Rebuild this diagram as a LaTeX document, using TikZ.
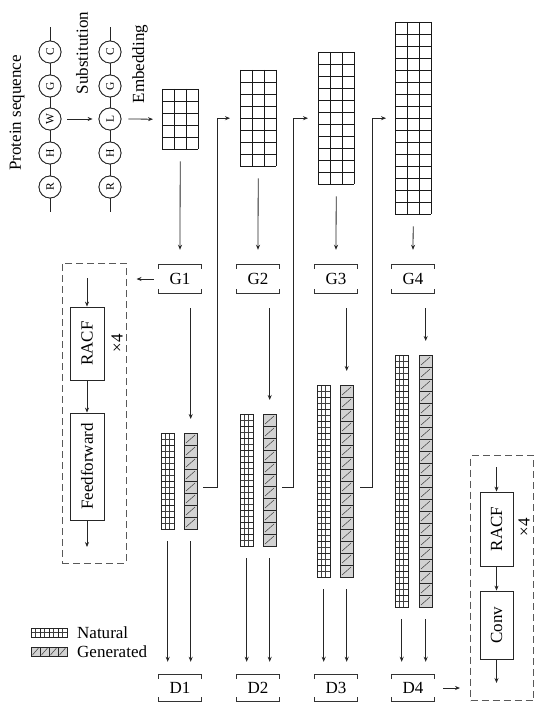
\documentclass[tikz,border=0pt]{standalone}
\usepackage{fontspec}
\setmainfont{Liberation Serif}
\usepackage{graphicx}
\usetikzlibrary{arrows.meta,calc}
\tikzset{
  ln/.style={line width=0.8pt, draw=black!85},
  arr/.style={ln, -{Stealth[length=5pt,width=4pt]}},
  gridline/.style={line width=0.9pt, draw=black!90},
  natline/.style={line width=0.8pt, draw=black!85},
  thinline/.style={line width=0.5pt, draw=black!75},
  brk/.style={line width=0.8pt, draw=black!80},
  aa/.style={circle, draw=black!85, line width=0.8pt, fill=white, minimum size=22pt, inner sep=0pt, font=\fontsize{11.5}{13}\selectfont},
  vlabel/.style={inner sep=0pt},
  blk/.style={draw=black!85, line width=0.8pt, minimum width=34pt, inner sep=0pt},
  dbox/.style={draw=black!65, dash pattern=on 7pt off 4pt, line width=1pt, inner sep=0pt},
  anchorbox/.style={inner sep=0pt, anchor=north west},
}
\newcommand\gridblk[4]{%
  \node[anchorbox, minimum width=36pt, minimum height=#4*12pt] (#1) at (#2,#3) {};
  \foreach \j in {0,...,#4} \draw[gridline] (#2,#3+12*\j) -- ++(36,0);
  \foreach \i in {0,1,2,3} \draw[gridline] (#2+12*\i,#3) -- ++(0,12*#4);
}
\newcommand\natcol[4]{%
  \node[anchorbox, minimum width=13pt, minimum height=#4*12pt] (#1) at (#2,#3) {};
  \foreach \j in {1,...,#4} {
    \draw[thinline] (#2+4.3,#3+12*\j-12) -- ++(0,12);
    \draw[thinline] (#2+8.7,#3+12*\j-12) -- ++(0,12);
    \draw[thinline] (#2,#3+12*\j-6) -- ++(13,0);
    \draw[natline] (#2,#3+12*\j-12) rectangle ++(13,12);
  }
}
\newcommand\gencol[4]{%
  \node[anchorbox, minimum width=13pt, minimum height=#4*12pt] (#1) at (#2,#3) {};
  \foreach \j in {1,...,#4} {
    \draw[natline, fill=gray!35] (#2,#3+12*\j-12) rectangle ++(13,12);
    \draw[thinline] (#2+2,#3+12*\j-2) -- ++(9,-8);
  }
}
\newcommand\brkbox[4]{%
  \node[inner sep=0pt, minimum width=42pt, minimum height=#3] (#1) at (#2) {#4};
  \draw[brk] ([yshift=-4pt]#1.north west) -- (#1.north west) -- (#1.north east) -- ([yshift=-4pt]#1.north east);
  \draw[brk] ([yshift=4pt]#1.south west) -- (#1.south west) -- (#1.south east) -- ([yshift=4pt]#1.south east);
}
\begin{document}
\begin{tikzpicture}[x=1pt,y=-1pt, font=\fontsize{17}{20}\selectfont]
\useasboundingbox (0,0) rectangle (536,703);

% protein sequence
\node[aa] (pC) at (50,52) {\rotatebox{90}{C}};
\node[aa] (pG) at (50,86) {\rotatebox{90}{G}};
\node[aa] (pW) at (50,119) {\rotatebox{90}{W}};
\node[aa] (pH) at (50,153) {\rotatebox{90}{H}};
\node[aa] (pR) at (50,187) {\rotatebox{90}{R}};
\node[aa] (sC) at (110,52) {\rotatebox{90}{C}};
\node[aa] (sG) at (110,86) {\rotatebox{90}{G}};
\node[aa] (sL) at (110,119) {\rotatebox{90}{L}};
\node[aa] (sH) at (110,153) {\rotatebox{90}{H}};
\node[aa] (sR) at (110,187) {\rotatebox{90}{R}};
\foreach \c in {p,s} {
  \draw[ln] (\c C.north) -- ++(0,-14);
  \draw[ln] (\c R.south) -- ++(0,14);
}
\draw[ln] (pC) -- (pG) -- (pW) -- (pH) -- (pR);
\draw[ln] (sC) -- (sG) -- (sL) -- (sH) -- (sR);
\foreach \c in {p,s} \foreach \n in {C,G,H,R} \node[aa] at (\c\n) {\rotatebox{90}{\n}};
\node[aa] at (pW) {\rotatebox{90}{W}};
\node[aa] at (sL) {\rotatebox{90}{L}};

\node[vlabel] (lprot) at (17,113) {\rotatebox{90}{Protein sequence}};
\node[vlabel] (lsub) at (82,53) {\rotatebox{90}{Substitution}};
\node[vlabel] (lemb) at (140,64) {\rotatebox{90}{Embedding}};

% grids
\gridblk{gr1}{162}{89}{5}
\gridblk{gr2}{240}{70}{8}
\gridblk{gr3}{318}{52}{11}
\gridblk{gr4}{395}{22}{16}

\draw[arr] ([xshift=6pt]pW.east) -- ([xshift=-6pt]sL.west);
\draw[arr] ([xshift=7pt]sL.east) -- ([xshift=-9pt]gr1.west);

% G boxes
\brkbox{g1}{180,279}{28pt}{G1}
\brkbox{g2}{258,279}{28pt}{G2}
\brkbox{g3}{336,279}{28pt}{G3}
\brkbox{g4}{413,279}{28pt}{G4}
\foreach \k in {1,2,3,4}
  \draw[arr] ([yshift=-12pt]gr\k.south) -- ([yshift=15pt]g\k.north);

% columns
\natcol{n1}{161}{433}{8}
\gencol{e1}{184}{433}{8}
\natcol{n2}{240}{414}{11}
\gencol{e2}{263}{414}{11}
\natcol{n3}{317}{385}{16}
\gencol{e3}{340}{385}{16}
\natcol{n4}{395}{355}{21}
\gencol{e4}{419}{355}{21}

\foreach \k in {1,2,3,4}
  \draw[arr] ($(e\k.north |- g\k.south)+(0,15)$) -- ([yshift=14pt]e\k.north);

% D boxes
\brkbox{d1}{180,688}{26pt}{D1}
\brkbox{d2}{258,688}{26pt}{D2}
\brkbox{d3}{336,688}{26pt}{D3}
\brkbox{d4}{413,688}{26pt}{D4}
\foreach \k in {1,2,3,4} {
  \draw[arr] ([yshift=-12pt]n\k.south) -- ($(n\k.south |- d\k.north)+(0,-13)$);
  \draw[arr] ([yshift=-12pt]e\k.south) -- ($(e\k.south |- d\k.north)+(0,-13)$);
}

% feedback connectors
\draw[arr] ($(e1.east)+(6,6)$) -- ++(14,0) |- ([xshift=-10pt]gr2.west);
\draw[arr] ($(e2.east)+(6,7)$) -- ++(11,0) |- ([xshift=-10pt]gr3.west);
\draw[arr] ($(e3.east)+(7,6)$) -- ++(12,0) |- ([xshift=-9pt]gr4.west);

% left generator block
\node[dbox, minimum width=64pt, minimum height=300pt] (lbox) at (94,413) {};
\node[blk, minimum height=73pt] (lr) at (87,343.5) {\rotatebox{90}{RACF}};
\node[blk, minimum height=107pt] (lf) at (87,466.5) {\rotatebox{90}{Feedforward}};
\coordinate (lin) at (87,278);
\coordinate (lout) at (87,547);
\draw[arr] (lin) -- (lr.north);
\draw[arr] (lr.south) -- (lf.north);
\draw[arr] (lf.south) -- (lout);
\node[vlabel] (lx) at (117,343) {\rotatebox{90}{×4}};
\draw[arr] ([xshift=-5pt]g1.west) -- ($(lbox.east |- g1.west)+(10,0)$);

% right discriminator block
\node[dbox, anchor=north west, minimum width=63pt, minimum height=245pt] (rbox) at (470,455) {};
\node[blk, minimum width=33pt, minimum height=74pt] (rr) at (496.5,529) {\rotatebox{90}{RACF}};
\node[blk, minimum width=33pt, minimum height=68pt] (rc) at (496.5,625) {\rotatebox{90}{Conv}};
\coordinate (rin) at (496.5,467);
\coordinate (rout) at (496.5,683);
\draw[arr] (rin) -- (rr.north);
\draw[arr] (rr.south) -- (rc.north);
\draw[arr] (rc.south) -- (rout);
\node[vlabel] (rx) at (524,527) {\rotatebox{90}{×4}};
\draw[arr] ([xshift=9pt]d4.east) -- ($(rbox.west |- d4.east)+(-10,0)$);

% legend
\draw[thinline] (31,632.5) -- (67,632.5);
\foreach \i in {0,1,2,3} \draw[thinline] (35.5+9*\i,628) -- ++(0,9);
\draw[natline] (31,628) rectangle (67,637);
\foreach \i in {1,2,3} \draw[natline] (31+9*\i,628) -- ++(0,9);
\draw[natline, fill=gray!35] (31,647) rectangle (67,656);
\foreach \i in {1,2,3} \draw[natline] (31+9*\i,647) -- ++(0,9);
\foreach \i in {0,1,2,3} \draw[thinline] (32.5+9*\i,655) -- ++(6,-7);
\node[anchor=west, inner sep=0pt] (tnat) at (77,633) {Natural};
\node[anchor=west, inner sep=0pt] (tgen) at (77,652) {Generated};
\end{tikzpicture}
\end{document}
